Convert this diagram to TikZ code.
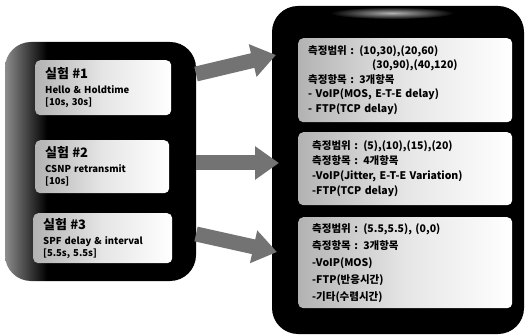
\documentclass[tikz,border=0pt]{standalone}
\usepackage{fontspec}
\setmainfont{Noto Sans CJK KR}
\usetikzlibrary{arrows.meta}

%% grey edge fading into black
\pgfdeclarehorizontalshading{panelshade}{100bp}{color(0bp)=(black!45); color(25bp)=(black!45);
  color(36bp)=(black); color(100bp)=(black)}

\begin{document}
\begin{tikzpicture}[x=1pt,y=-1pt]
  \tikzset{panel/.style={rounded corners=26pt},
    textbox/.style={left color=black!30,right color=white,middle color=white!90!black,
      rounded corners=5pt,anchor=north west,
      align=left,inner xsep=10pt,inner ysep=0pt,
      font=\bfseries\fontsize{9.5}{12}\selectfont},
    head/.style={font=\bfseries\fontsize{10.5}{14.5}\selectfont},
    bigarrow/.style={line width=15pt,draw=black!55,
      -{Triangle[width=32pt,length=24pt]}}}

  \useasboundingbox (0,0) rectangle (526,336);

  %% Draw the two black panels
  \shade[panel,shading=panelshade] (5,42) rectangle (196,281);
  \fill[panel] (272,6) rectangle (524,334);
  \shade[inner color=black!30,outer color=black] (392,13) ellipse (62 and 6);

  %% The tests on the left
  \node[textbox, minimum width=132pt, minimum height=55pt, text width=116pt]
    (test1) at (35,60)
    {{\fontsize{13}{14}\selectfont 실험 \#1}\\[3pt] Hello \& Holdtime\\{}[10s, 30s]};
  \node[textbox, minimum width=130pt, minimum height=53pt, text width=114pt]
    (test2) at (35,140)
    {{\fontsize{13}{14}\selectfont 실험 \#2}\\[3pt] CSNP retransmit\\{}[10s]};
  \node[textbox, minimum width=135pt, minimum height=50pt, text width=119pt]
    (test3) at (33,213)
    {{\fontsize{13}{14}\selectfont 실험 \#3}\\[3pt] SPF delay \& interval\\{}[5.5s, 5.5s]};

  %% The measurements on the right
  \node[textbox, head, minimum width=214pt, minimum height=84pt, text width=194pt]
    (meas1) at (298,38)
    {측정범위 : (10,30),(20,60)\\ \hspace*{64pt}(30,90),(40,120)\\
     측정항목 : 3개항목\\ - VoIP(MOS, E-T-E delay)\\ - FTP(TCP delay)};
  \node[textbox, head, inner xsep=14pt, minimum width=214pt, minimum height=73pt,
    text width=186pt, font=\bfseries\fontsize{10.5}{15}\selectfont]
    (meas2) at (298,132)
    {측정범위 : (5),(10),(15),(20)\\ 측정항목 : 4개항목\\
     -VoIP(Jitter, E-T-E Variation)\\ -FTP(TCP delay)};
  \node[textbox, head, inner xsep=14pt, minimum width=214pt, minimum height=91pt,
    text width=186pt, font=\bfseries\fontsize{10.5}{17}\selectfont]
    (meas3) at (298,217)
    {측정범위 : (5.5,5.5), (0,0)\\ 측정항목 : 3개항목\\
     -VoIP(MOS)\\ -FTP(반응시간)\\ -기타(수렴시간)};

  %% Arrows from panel to panel
  \coordinate (from1) at (196,74);  \coordinate (to1) at (276,55);
  \coordinate (from2) at (196,163); \coordinate (to2) at (279,163);
  \coordinate (from3) at (196,234); \coordinate (to3) at (277,252);
  \draw[bigarrow] (from1) -- (to1);
  \draw[bigarrow] (from2) -- (to2);
  \draw[bigarrow] (from3) -- (to3);

\end{tikzpicture}
\end{document}
